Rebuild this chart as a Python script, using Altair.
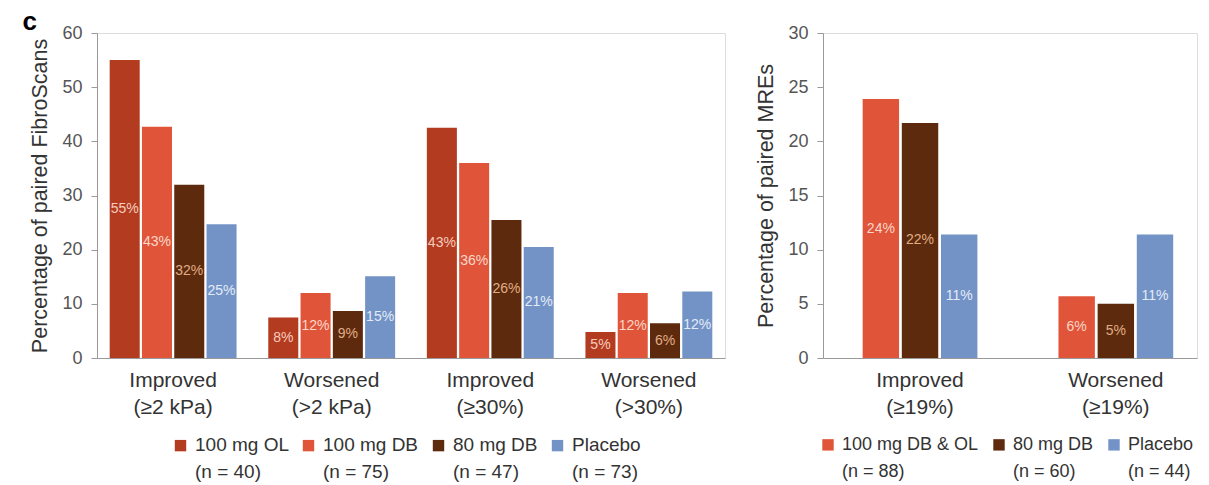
import altair as alt
import pandas as pd

FONT = "Liberation Sans"

# ---------------- Left panel: paired FibroScans ----------------
left_groups = ["Improved|(≥2 kPa)", "Worsened|(>2 kPa)", "Improved|(≥30%)", "Worsened|(>30%)"]
left_series = ["100 mg OL", "100 mg DB", "80 mg DB", "Placebo"]
left_n = [40, 75, 47, 73]
left_colors = ["#b23b20", "#e0553a", "#5d2a0d", "#7393c6"]
left_label_colors = ["#f7cbbd", "#fcd6c8", "#e0ad85", "#e3ebf7"]
left_ol = [55.0, 7.5, 42.5, 4.8]
left_db100 = [42.7, 12.0, 36.0, 12.0]
left_db80 = [32.0, 8.7, 25.5, 6.4]
left_placebo = [24.7, 15.1, 20.5, 12.3]
left_ol_lbl = ["55%", "8%", "43%", "5%"]
left_db100_lbl = ["43%", "12%", "36%", "12%"]
left_db80_lbl = ["32%", "9%", "26%", "6%"]
left_placebo_lbl = ["25%", "15%", "21%", "12%"]
left_ticks = [0, 10, 20, 30, 40, 50, 60]

# ---------------- Right panel: paired MREs ----------------
right_groups = ["Improved|(≥19%)", "Worsened|(≥19%)"]
right_series = ["100 mg DB & OL", "80 mg DB", "Placebo"]
right_n = [88, 60, 44]
right_colors = ["#e0553a", "#5d2a0d", "#7393c6"]
right_label_colors = ["#fcd6c8", "#e0ad85", "#e3ebf7"]
right_db = [23.9, 5.7]
right_db80 = [21.7, 5.0]
right_placebo = [11.4, 11.4]
right_db_lbl = ["24%", "6%"]
right_db80_lbl = ["22%", "5%"]
right_placebo_lbl = ["11%", "11%"]
right_ticks = [0, 5, 10, 15, 20, 25, 30]

# square legend swatch, raised slightly so it sits beside the first label line
SWATCH = "M-1,-1.9H1V0.1H-1Z"


def make_df(groups, series, values, labels):
    rows = []
    for s, vals, lbls in zip(series, values, labels):
        for g, v, l in zip(groups, vals, lbls):
            rows.append({"group": g, "series": s, "value": v, "label": l})
    return pd.DataFrame(rows)


left_df = make_df(left_groups, left_series,
                  [left_ol, left_db100, left_db80, left_placebo],
                  [left_ol_lbl, left_db100_lbl, left_db80_lbl, left_placebo_lbl])
right_df = make_df(right_groups, right_series,
                   [right_db, right_db80, right_placebo],
                   [right_db_lbl, right_db80_lbl, right_placebo_lbl])


def legend_expr(series, ns):
    parts = [f"datum.label == '{s}' ? ['{s}', '(n = {n})']" for s, n in zip(series, ns)]
    return " : ".join(parts) + " : datum.label"


def panel(df, groups, series, colors, label_colors, ns, ytitle, ticks, width,
          pad_inner, pad_outer, align, legend_x, legend_y, col_pad, legend_font):
    x = alt.X("group:N", sort=groups, title=None,
              scale=alt.Scale(type="band", domain=groups, paddingInner=pad_inner,
                              paddingOuter=pad_outer, align=align),
              axis=alt.Axis(labelExpr="split(datum.label, '|')", labelAngle=0, ticks=False,
                            labelFontSize=21, labelLineHeight=27, labelPadding=11,
                            labelColor="#333333", domainColor="#9a9a9a", labelFont=FONT))
    xo = alt.XOffset("series:N", sort=series,
                     scale=alt.Scale(type="band", domain=series,
                                     paddingInner=0.07, paddingOuter=0))
    y_scale = alt.Scale(domain=[ticks[0], ticks[-1]], nice=False)
    y_axis = alt.Axis(values=ticks, title=ytitle, grid=False, tickSize=6,
                      tickColor="#9a9a9a", domainColor="#9a9a9a",
                      labelFontSize=18, labelColor="#555555", labelPadding=9,
                      labelFont=FONT, titleFont=FONT, titleFontSize=21.5,
                      titleFontWeight="normal", titleColor="#333333", titlePadding=10)
    bars = alt.Chart(df).mark_bar().encode(
        x=x, xOffset=xo,
        y=alt.Y("value:Q", scale=y_scale, axis=y_axis),
        color=alt.Color("series:N", sort=series,
                        scale=alt.Scale(domain=series, range=colors),
                        legend=alt.Legend(title=None, orient="none", legendX=legend_x,
                                          legendY=legend_y, direction="horizontal",
                                          columns=len(series), symbolType=SWATCH,
                                          symbolSize=130, symbolStrokeWidth=0,
                                          labelFontSize=legend_font, labelFont=FONT,
                                          labelColor="#333333",
                                          labelExpr=legend_expr(series, ns),
                                          labelBaseline="alphabetic", labelLimit=300,
                                          columnPadding=col_pad, labelOffset=5,
                                          padding=0)),
    )
    text = alt.Chart(df).transform_calculate(mid="datum.value / 2").mark_text(
        font=FONT, fontSize=14, baseline="middle"
    ).encode(
        x=x, xOffset=xo,
        y=alt.Y("mid:Q", scale=y_scale, axis=y_axis),
        text="label:N",
        color=alt.Color("series:N", sort=series,
                        scale=alt.Scale(domain=series, range=label_colors), legend=None),
    )
    return alt.layer(bars, text).resolve_scale(color="independent").properties(
        width=width, height=325)


left = panel(left_df, left_groups, left_series, left_colors, left_label_colors, left_n,
             "Percentage of paired FibroScans", left_ticks, 628,
             0.2, 0.08, 0.5, 74, 408, 10, 19)
right = panel(right_df, right_groups, right_series, right_colors, right_label_colors, right_n,
              "Percentage of paired MREs", right_ticks, 374,
              0.414, 0.162, 0.625, -4, 408, 11, 18)

chart = alt.hconcat(left, right, spacing=29).resolve_scale(
    color="independent", x="independent", y="independent", xOffset="independent"
).properties(
    title=alt.Title("c", anchor="start", frame="bounds", fontSize=26, fontWeight="bold",
                    font=FONT, color="#000000", offset=-11, dx=-7),
    padding={"left": 14, "top": 0, "right": 0, "bottom": 0},
).configure_view(stroke=None).configure(
    font=FONT, style={"guide-label": {"lineHeight": 27}}
)

chart.save("out.html", embed_options={"renderer": "svg", "actions": False})
